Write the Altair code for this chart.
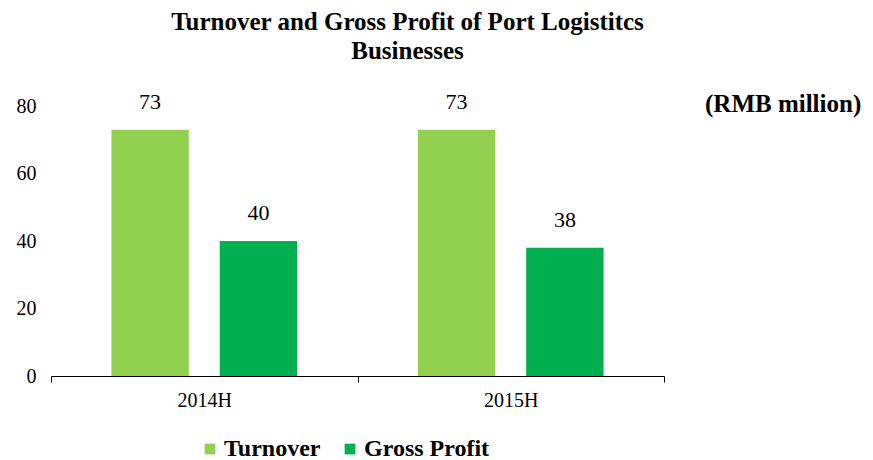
import altair as alt
import pandas as pd

periods = ["2014H", "2014H", "2015H", "2015H"]
series = ["Turnover", "Gross Profit", "Turnover", "Gross Profit"]
values = [73, 40, 73, 38]
series_order = ["Turnover", "Gross Profit"]
colors = ["#92D050", "#00B050"]

df = pd.DataFrame({"period": periods, "series": series, "value": values})

FONT = "Liberation Serif"
W, H = 613, 270
PAD_L, PAD_T = 43, 98
TOTAL_W, TOTAL_H = 857, 452

xenc = alt.X("period:N", title=None,
             scale=alt.Scale(paddingInner=0, paddingOuter=0),
             axis=alt.Axis(labelAngle=0, labelFont=FONT, labelFontSize=20,
                           labelColor="black", domainColor="black",
                           tickColor="black", tickSize=6, tickBand="extent",
                           labelPadding=8))
xoff = alt.XOffset("series:N", sort=series_order,
                   scale=alt.Scale(paddingInner=0.2857, paddingOuter=0.558))
yenc = alt.Y("value:Q", title=None,
             scale=alt.Scale(domain=[0, 80]),
             axis=alt.Axis(values=[0, 20, 40, 60, 80], grid=False, domain=False,
                           ticks=False, labelFont=FONT, labelFontSize=20,
                           labelColor="black", labelPadding=15))

bars = alt.Chart(df).mark_bar().encode(
    x=xenc, xOffset=xoff, y=yenc,
    color=alt.Color("series:N", sort=series_order,
                    scale=alt.Scale(domain=series_order, range=colors),
                    legend=alt.Legend(title=None, orient="none", direction="horizontal",
                                      legendX=147, legendY=331, padding=0,
                                      symbolType="square", symbolSize=115,
                                      symbolStrokeWidth=0, labelOffset=2,
                                      labelFont=FONT, labelFontSize=24,
                                      labelFontWeight="bold", labelColor="black",
                                      columnPadding=17)),
)

labels = alt.Chart(df).mark_text(font=FONT, fontSize=22, dy=-16, baseline="bottom",
                                 color="black").encode(
    x=xenc, xOffset=xoff, y=yenc, text=alt.Text("value:Q"))

unit = alt.Chart(pd.DataFrame({"t": ["(RMB million)"]})).mark_text(
    font=FONT, fontSize=25, fontWeight="bold", align="left", baseline="middle",
    color="black").encode(x=alt.value(W + 41), y=alt.value(-2), text="t:N")

chart = alt.layer(bars, labels, unit).properties(
    width=W, height=H,
    autosize=alt.AutoSizeParams(type="none"),
    title=alt.TitleParams(["Turnover and Gross Profit of Port Logistitcs", "Businesses"],
                          font=FONT, fontSize=25, fontWeight="bold", color="black",
                          lineHeight=29, anchor="middle", dx=50, offset=27,
                          frame="group"),
    padding={"left": PAD_L, "top": PAD_T, "right": TOTAL_W - PAD_L - W,
             "bottom": TOTAL_H - PAD_T - H},
).configure_view(stroke=None)

chart.save("out.html", embed_options={"renderer": "svg", "actions": False})
